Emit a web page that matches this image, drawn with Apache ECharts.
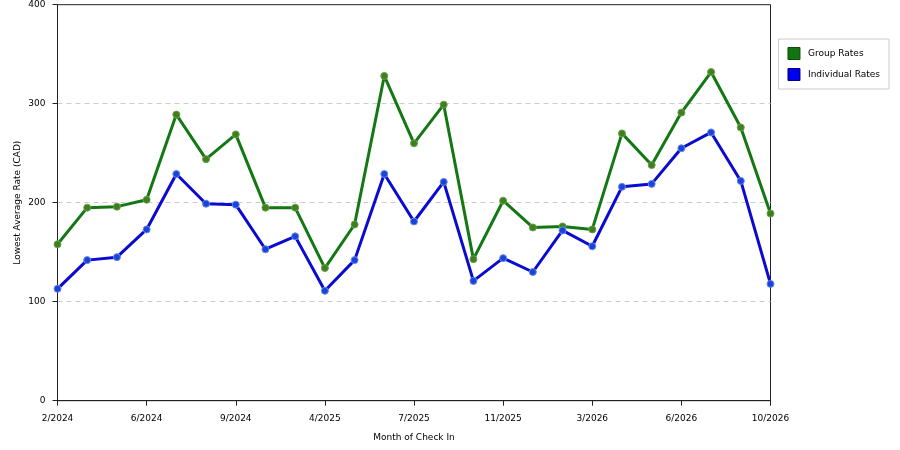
<!DOCTYPE html>
<html><head><meta charset="utf-8">
<script src="https://cdn.jsdelivr.net/npm/echarts@6/dist/echarts.min.js"></script>
<style>html,body{margin:0;padding:0;background:#fff}#c{width:900px;height:450px}</style>
</head><body><div id="c"></div>
<script>
const months = ['2/2024','3/2024','4/2024','6/2024','7/2024','8/2024','9/2024','10/2024','11/2024','4/2025','5/2025','6/2025','7/2025','8/2025','9/2025','11/2025','12/2025','1/2026','3/2026','4/2026','5/2026','6/2026','7/2026','8/2026','10/2026'];
const groupRates = [158,195,196,203,289,244,269,195,195,134,178,328,260,299,143,202,175,176,173,270,238,291,332,276,189];
const individualRates = [113,142,145,173,229,199,198,153,166,111,142,229,181,221,121,144,130,172,156,216,219,255,271,222,118];
const yTicks = [0,100,200,300,400];

const chart = echarts.init(document.getElementById('c'));
const font = 'DejaVu Sans';
chart.setOption({
  animation: false,
  backgroundColor: '#fff',
  grid: {left: 57.5, right: 129.5, top: 4.7, bottom: 49.3, show: true, borderColor: '#222', borderWidth: 1},
  legend: {
    orient: 'vertical', right: 11, top: 39,
    padding: [8, 9, 8, 9],
    borderColor: '#ccc', borderWidth: 1,
    itemWidth: 12, itemHeight: 12, itemGap: 8,
    icon: 'rect',
    textStyle: {fontFamily: font, fontSize: 9, color: '#000', padding: [0, 0, 0, 3]},
    data: [{name: 'Group Rates', itemStyle: {color: '#127512', borderColor: '#0a4f0a', borderWidth: 1}},
           {name: 'Individual Rates', itemStyle: {color: '#0000ee', borderColor: '#00008a', borderWidth: 1}}]
  },
  xAxis: {
    type: 'category', data: months, boundaryGap: false,
    name: 'Month of Check In', nameLocation: 'middle', nameGap: 32,
    nameTextStyle: {fontFamily: font, fontSize: 9, color: '#000'},
    axisLine: {lineStyle: {color: '#222'}},
    axisTick: {interval: 2, length: 5, lineStyle: {color: '#222'}},
    axisLabel: {interval: 2, fontFamily: font, fontSize: 9, color: '#000', margin: 13}
  },
  yAxis: {
    type: 'value', min: yTicks[0], max: yTicks[yTicks.length-1], interval: 100,
    name: 'Lowest Average Rate (CAD)', nameLocation: 'middle', nameGap: 35, nameMoveOverlap: false,
    nameTextStyle: {fontFamily: font, fontSize: 9, color: '#000'},
    axisLine: {show: true, lineStyle: {color: '#222'}},
    axisTick: {show: true, length: 5, lineStyle: {color: '#222'}},
    axisLabel: {fontFamily: font, fontSize: 9, color: '#000', margin: 12},
    splitLine: {showMaxLine: false, showMinLine: false, lineStyle: {color: '#ccc', type: [5, 4]}}
  },
  series: [
    {name: 'Group Rates', type: 'line', data: groupRates, symbol: 'circle', symbolSize: 7,
     lineStyle: {color: '#137813', width: 3}, itemStyle: {color: '#3f7f1f', borderColor: '#6aa04a', borderWidth: 1}},
    {name: 'Individual Rates', type: 'line', data: individualRates, symbol: 'circle', symbolSize: 7,
     lineStyle: {color: '#0a0ad0', width: 3}, itemStyle: {color: '#1a44d8', borderColor: '#6688ee', borderWidth: 1}}
  ]
});
</script></body></html>
